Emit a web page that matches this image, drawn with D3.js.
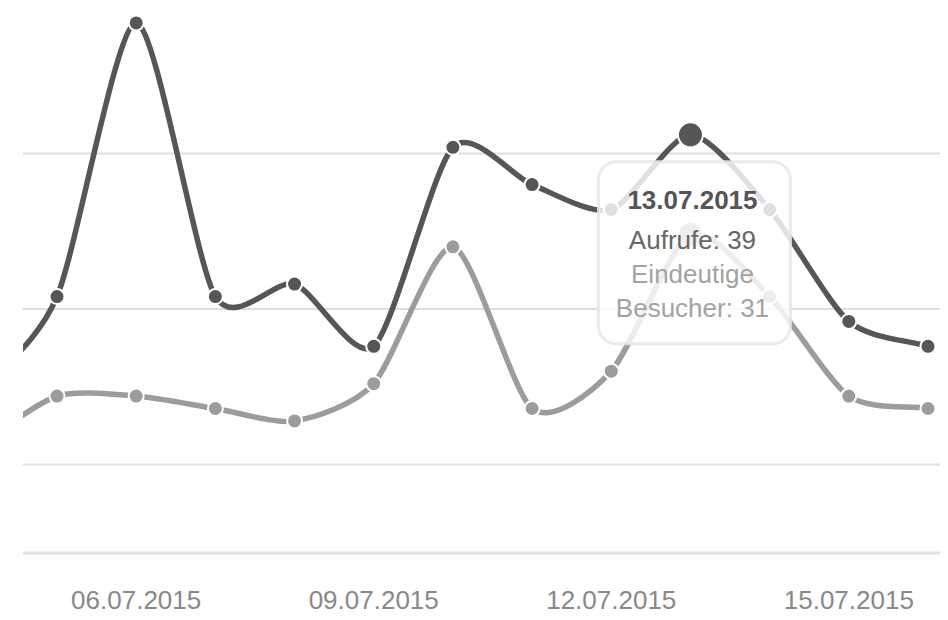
<!DOCTYPE html>
<meta charset="utf-8">
<style>
  body { margin: 0; background: #fff; }
  svg { display: block; font-family: "Liberation Sans", Arial, sans-serif; }
</style>
<body>
<script src="https://cdn.jsdelivr.net/npm/d3@7/dist/d3.min.js"></script>
<script>

    // data
    var dates = ["04.07.2015", "05.07.2015", "06.07.2015", "07.07.2015", "08.07.2015",
                 "09.07.2015", "10.07.2015", "11.07.2015", "12.07.2015", "13.07.2015",
                 "14.07.2015", "15.07.2015", "16.07.2015"];
    var aufrufe  = [18, 26, 48, 26, 27, 22, 38, 35, 33, 39, 33, 24, 22];
    var besucher = [14, 18, 18, 17, 16, 19, 30, 17, 20, 31, 26, 18, 17];
    var tickLabels = ["06.07.2015", "09.07.2015", "12.07.2015", "15.07.2015"];
    var gridValues = [12.5, 25, 37.5, 50];
    var hoverIndex = 9;

    var width = 948,
        height = 620,
        plotLeft = 23,
        plotRight = 940,
        axisLineY = 553;

    var parse = d3.timeParse("%d.%m.%Y");

    var x = d3.scaleTime()
            .domain([parse("05.07.2015"), parse("16.07.2015")])
            .range([57, 928]);

    var y = d3.scaleLinear()
            .domain([0, 50])
            .range([620, -2]);

    var svg = d3.select("body").append("svg")
            .attr("width", width)
            .attr("height", height);

    svg.append("clipPath").attr("id", "plot")
        .append("rect")
        .attr("x", plotLeft).attr("y", -20)
        .attr("width", plotRight - plotLeft).attr("height", height + 40);

    // grid
    svg.append("g").selectAll("line")
        .data(gridValues)
        .enter().append("line")
        .attr("x1", plotLeft).attr("x2", plotRight)
        .attr("y1", function(d) { return y(d); })
        .attr("y2", function(d) { return y(d); })
        .attr("stroke", "#dedede")
        .attr("stroke-width", 2);

    svg.append("line")
        .attr("x1", plotLeft).attr("x2", plotRight)
        .attr("y1", axisLineY).attr("y2", axisLineY)
        .attr("stroke", "#e2e2e2")
        .attr("stroke-width", 3);

    // x labels
    svg.append("g").selectAll("text")
        .data(tickLabels)
        .enter().append("text")
        .attr("x", function(d) { return x(parse(d)); })
        .attr("y", 609)
        .attr("text-anchor", "middle")
        .attr("font-size", 26)
        .attr("fill", "#888")
        .text(function(d) { return d; });

    // smooth path like morris.js
    function smoothPath(pts) {
        var grads = pts.map(function(p, i) {
            var prev = pts[i - 1], next = pts[i + 1];
            if (prev && next) return (prev[1] - next[1]) / (prev[0] - next[0]);
            if (prev) return (prev[1] - p[1]) / (prev[0] - p[0]);
            return (p[1] - next[1]) / (p[0] - next[0]);
        });
        var path = d3.path();
        pts.forEach(function(p, i) {
            if (i === 0) { path.moveTo(p[0], p[1]); return; }
            var lc = pts[i - 1], ix = (p[0] - lc[0]) / 4;
            path.bezierCurveTo(lc[0] + ix, lc[1] + ix * grads[i - 1],
                               p[0] - ix, p[1] - ix * grads[i],
                               p[0], p[1]);
        });
        return path.toString();
    }

    var series = [
        {name: "Eindeutige Besucher", values: besucher, color: "#9c9c9c"},
        {name: "Aufrufe", values: aufrufe, color: "#565656"}
    ];

    var plot = svg.append("g").attr("clip-path", "url(#plot)");

    series.forEach(function(s) {
        var pts = s.values.map(function(v, i) { return [x(parse(dates[i])), y(v)]; });
        plot.append("path")
            .attr("d", smoothPath(pts))
            .attr("fill", "none")
            .attr("stroke", s.color)
            .attr("stroke-width", 5.5);
    });

    series.forEach(function(s) {
        plot.append("g").selectAll("circle")
            .data(s.values)
            .enter().append("circle")
            .attr("cx", function(d, i) { return x(parse(dates[i])); })
            .attr("cy", function(d) { return y(d); })
            .attr("r", function(d, i) { return i === hoverIndex ? 12.5 : 7.5; })
            .attr("fill", s.color)
            .attr("stroke", "#fff")
            .attr("stroke-width", 2);
    });

    // hover box
    var hx = x(parse(dates[hoverIndex])),
        hy = y(aufrufe[hoverIndex]) + 27;
    var tip = svg.append("g").attr("transform", "translate(" + hx + "," + hy + ")");

    tip.append("rect")
        .attr("x", -92).attr("y", 0)
        .attr("width", 192).attr("height", 182)
        .attr("rx", 18)
        .attr("fill", "rgba(255,255,255,0.82)")
        .attr("stroke", "rgba(230,230,230,0.85)")
        .attr("stroke-width", 3);

    var tipLines = [
        {text: dates[hoverIndex], dy: 47, color: "#555", weight: "bold"},
        {text: "Aufrufe: " + aufrufe[hoverIndex], dy: 87, color: "#666", weight: "normal"},
        {text: "Eindeutige", dy: 121, color: "#a3a3a3", weight: "normal"},
        {text: "Besucher: " + besucher[hoverIndex], dy: 155, color: "#a3a3a3", weight: "normal"}
    ];

    tip.selectAll("text")
        .data(tipLines)
        .enter().append("text")
        .attr("x", 2)
        .attr("y", function(d) { return d.dy; })
        .attr("text-anchor", "middle")
        .attr("font-size", 26)
        .attr("font-weight", function(d) { return d.weight; })
        .attr("fill", function(d) { return d.color; })
        .text(function(d) { return d.text; });

</script>
